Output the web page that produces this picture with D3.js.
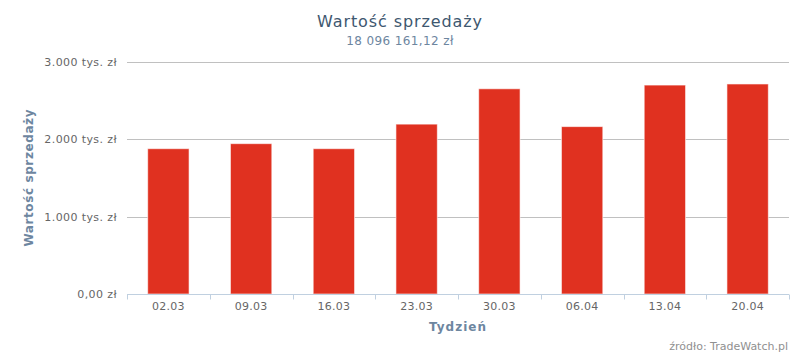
<!DOCTYPE html>
<html>
<head>
<meta charset="utf-8">
<script src="https://cdn.jsdelivr.net/npm/d3@7"></script>
<style>
  body { margin: 0; background: #fff; }
  svg { font-family: "DejaVu Sans", Verdana, sans-serif; }
</style>
</head>
<body>
<svg id="chart" width="800" height="356"></svg>
<script>
// data (tys. zł)
const weeks = ["02.03", "09.03", "16.03", "23.03", "30.03", "06.04", "13.04", "20.04"];
const sales = [1875, 1940, 1875, 2192, 2648, 2160, 2696, 2710];
const yTicks = [0, 1000, 2000, 3000];
const yTickLabels = ["0,00 zł", "1.000 tys. zł", "2.000 tys. zł", "3.000 tys. zł"];

const chartTitle = "Wartość sprzedaży";
const chartSubtitle = "18 096 161,12 zł";

let chart = d3.select("#chart");
let chart_width = 800, chart_height = 356;
const margin = {top: 61.5, right: 11, bottom: 62, left: 127};

const x = d3.scaleBand()
            .domain(weeks)
            .range([margin.left, chart_width - margin.right])
            .paddingInner(0.5)
            .paddingOuter(0.25);
const y = d3.scaleLinear()
            .domain([0, 3000])
            .range([chart_height - margin.bottom, margin.top]);

// gridlines
chart.append("g")
  .selectAll("line")
  .data(yTicks.slice(1))
  .join("line")
    .attr("x1", margin.left)
    .attr("x2", chart_width - margin.right)
    .attr("y1", d => Math.round(y(d)) + 0.5)
    .attr("y2", d => Math.round(y(d)) + 0.5)
    .attr("stroke", "#C0C0C0");

// y labels
chart.append("g")
  .selectAll("text")
  .data(yTicks)
  .join("text")
    .attr("x", margin.left - 10)
    .attr("y", d => y(d) + 4)
    .attr("text-anchor", "end")
    .attr("fill", "#666")
    .attr("font-size", 11)
    .attr("letter-spacing", 0.4)
    .text((d, i) => yTickLabels[i]);

// bars
chart.append("g")
  .selectAll("rect")
  .data(weeks)
  .join("rect")
    .attr("x", d => x(d))
    .attr("y", (d, i) => y(sales[i]))
    .attr("width", x.bandwidth())
    .attr("height", (d, i) => y(0) - y(sales[i]))
    .attr("fill", "#E03120")
    .attr("stroke", "#fff")
    .attr("stroke-opacity", 0.6)
    .attr("stroke-width", 1);

// x axis line + ticks at category boundaries
const axisY = Math.round(y(0)) + 0.5;
chart.append("line")
    .attr("x1", margin.left)
    .attr("x2", chart_width - margin.right)
    .attr("y1", axisY)
    .attr("y2", axisY)
    .attr("stroke", "#C0D0E0");

const bounds = d3.range(weeks.length + 1).map(i => margin.left + i * (chart_width - margin.left - margin.right) / weeks.length);
chart.append("g")
  .selectAll("line")
  .data(bounds)
  .join("line")
    .attr("x1", d => Math.round(d) + 0.5)
    .attr("x2", d => Math.round(d) + 0.5)
    .attr("y1", axisY)
    .attr("y2", axisY + 5)
    .attr("stroke", "#C0D0E0");

chart.append("g")
  .selectAll("text")
  .data(weeks)
  .join("text")
    .attr("x", d => x(d) + x.bandwidth() / 2)
    .attr("y", axisY + 15)
    .attr("text-anchor", "middle")
    .attr("fill", "#666")
    .attr("font-size", 11)
    .attr("letter-spacing", 0.3)
    .text(d => d);

// titles
chart.append("text")
    .attr("x", chart_width / 2)
    .attr("y", 27)
    .attr("text-anchor", "middle")
    .attr("fill", "#3E576F")
    .attr("font-size", 16)
    .attr("letter-spacing", 0.9)
    .text(chartTitle);

chart.append("text")
    .attr("x", chart_width / 2)
    .attr("y", 45)
    .attr("text-anchor", "middle")
    .attr("fill", "#6D869F")
    .attr("font-size", 12)
    .attr("letter-spacing", 0.4)
    .text(chartSubtitle);

// axis titles
chart.append("text")
    .attr("transform", `translate(33,${(y(0) + y(3000)) / 2}) rotate(-90)`)
    .attr("text-anchor", "middle")
    .attr("fill", "#6D869F")
    .attr("font-size", 12)
    .attr("font-weight", "bold")
    .attr("letter-spacing", 0.6)
    .text("Wartość sprzedaży");

chart.append("text")
    .attr("x", (margin.left + chart_width - margin.right) / 2)
    .attr("y", 331)
    .attr("text-anchor", "middle")
    .attr("fill", "#6D869F")
    .attr("font-size", 12)
    .attr("font-weight", "bold")
    .attr("letter-spacing", 1)
    .text("Tydzień");

// credits
chart.append("text")
    .attr("x", chart_width - 12)
    .attr("y", 350)
    .attr("text-anchor", "end")
    .attr("fill", "#909090")
    .attr("font-size", 11)
    .text("źródło: TradeWatch.pl");
</script>
</body>
</html>
